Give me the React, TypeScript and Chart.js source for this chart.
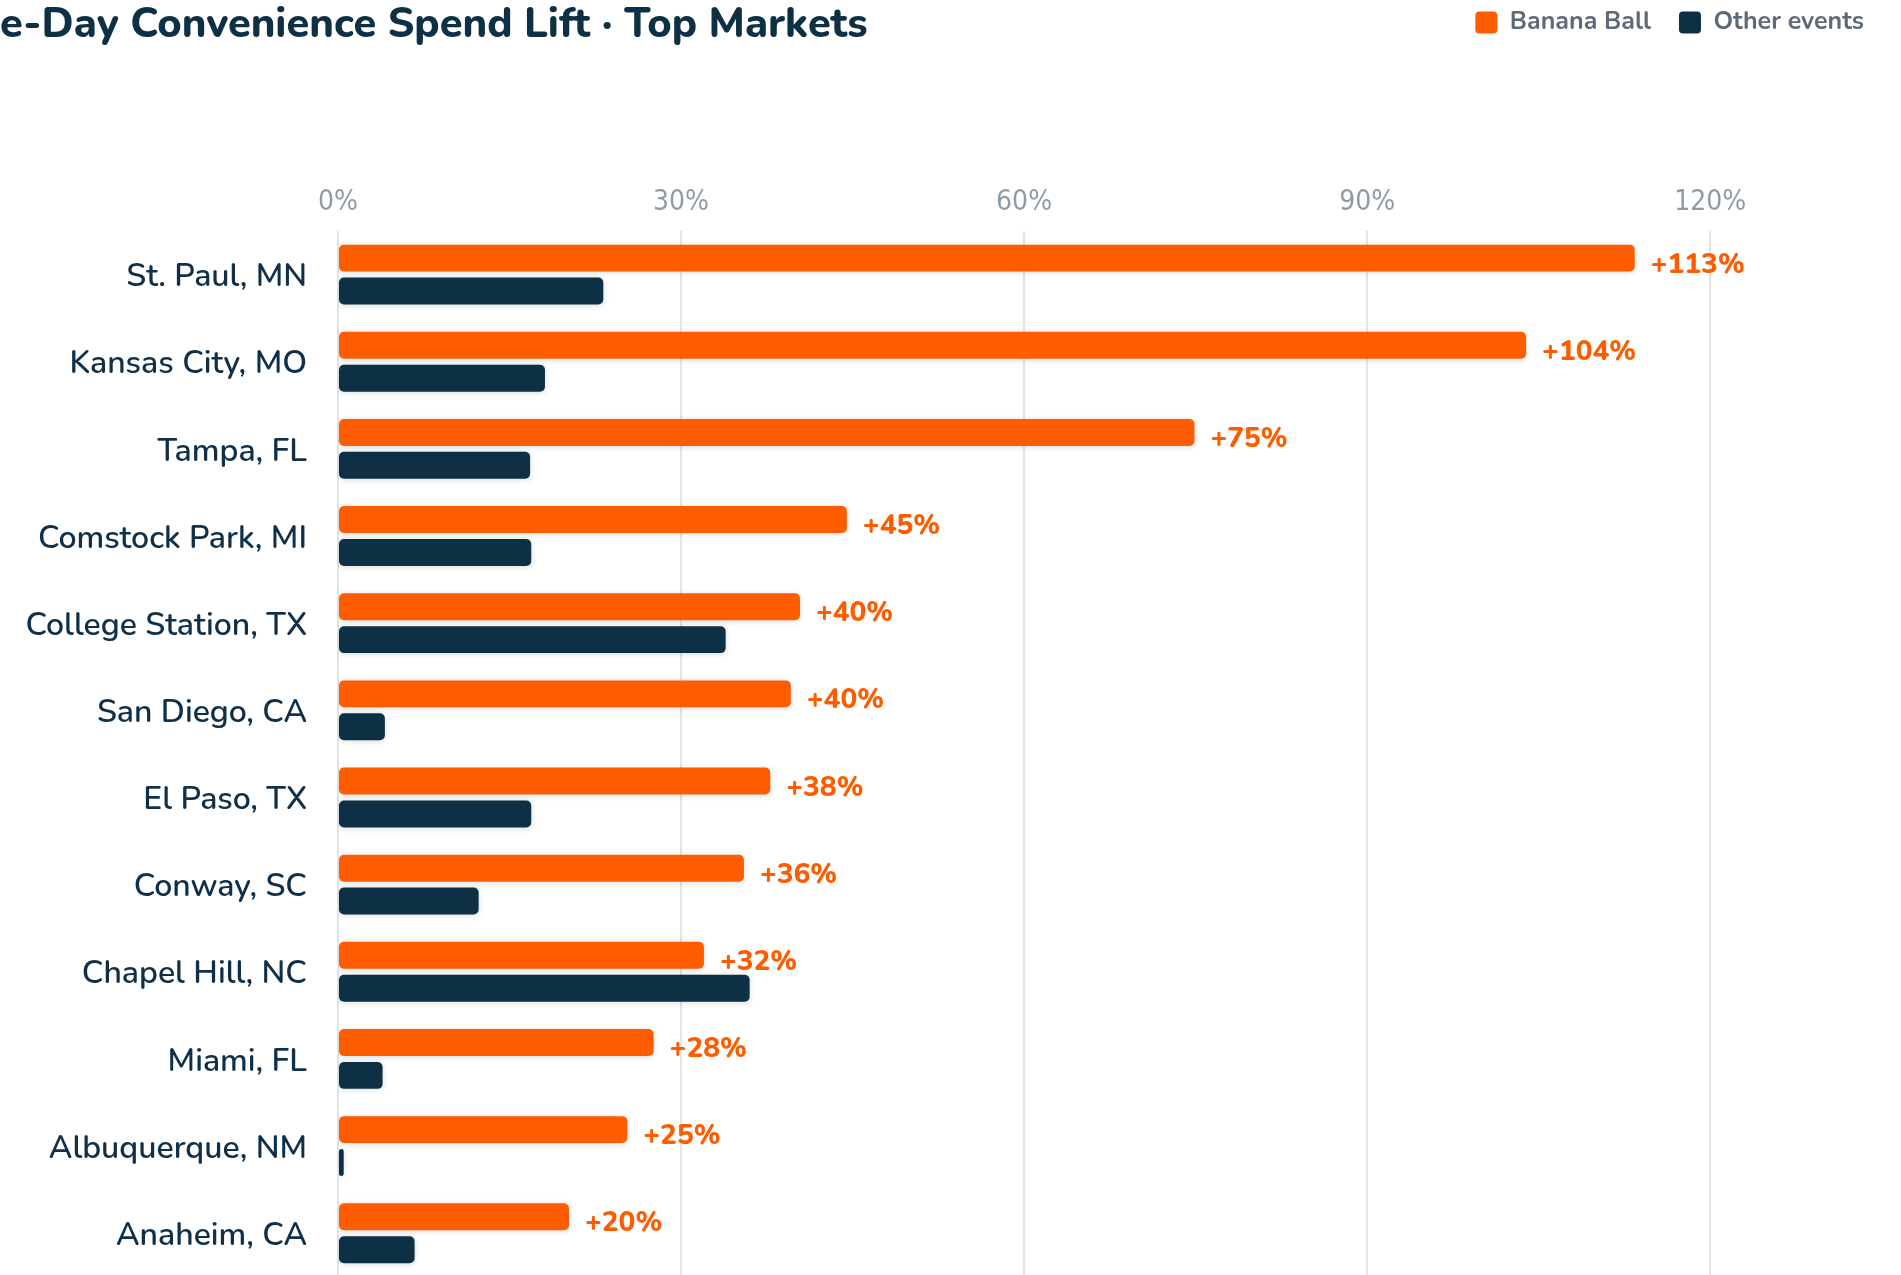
import React, { useEffect, useRef } from "react";
import { Chart, registerables } from "chart.js";

Chart.register(...registerables);

const TITLE = "Game-Day Convenience Spend Lift · Top Markets";
const TITLE_HIDDEN_PREFIX = "Gam";

const categories = [
  "St. Paul, MN",
  "Kansas City, MO",
  "Tampa, FL",
  "Comstock Park, MI",
  "College Station, TX",
  "San Diego, CA",
  "El Paso, TX",
  "Conway, SC",
  "Chapel Hill, NC",
  "Miami, FL",
  "Albuquerque, NM",
  "Anaheim, CA",
];

const bananaBall = [113.4, 103.9, 74.9, 44.5, 40.4, 39.6, 37.8, 35.5, 32.0, 27.6, 25.3, 20.2];
const otherEvents = [23.2, 18.1, 16.8, 16.9, 33.9, 4.1, 16.9, 12.3, 36.0, 3.9, 0.5, 6.7];

const xTickValues = [0, 30, 60, 90, 120];

const ORANGE = "#ff5c00";
const NAVY = "#0e3044";
const LABEL_FONT = "Nunito, Lato, 'Noto Sans', sans-serif";

const CANVAS_W = 1901;
const CANVAS_H = 1345;
const CANVAS_SHIFT = 18;

const shadowPlugin = {
  id: "barShadow",
  beforeDatasetsDraw(chart: any) {
    const ctx = chart.ctx;
    ctx.save();
    ctx.shadowColor = "rgba(20, 30, 40, 0.16)";
    ctx.shadowBlur = 6;
    ctx.shadowOffsetX = 0;
    ctx.shadowOffsetY = 1;
  },
  afterDatasetsDraw(chart: any) {
    chart.ctx.restore();
  },
};

const valueLabelPlugin = {
  id: "valueLabels",
  afterDatasetsDraw(chart: any) {
    const ctx = chart.ctx;
    const meta = chart.getDatasetMeta(0);
    const data = chart.data.datasets[0].data as number[];
    ctx.save();
    ctx.font = `800 28px ${LABEL_FONT}`;
    ctx.fillStyle = ORANGE;
    ctx.textAlign = "left";
    ctx.textBaseline = "alphabetic";
    const m = ctx.measureText("+0%");
    const asc = m.actualBoundingBoxAscent || 21;
    meta.data.forEach((bar: any, i: number) => {
      const txt = `+${Math.round(data[i])}%`;
      ctx.fillText(txt, bar.x + 16, bar.y + 4 + asc / 2);
    });
    ctx.restore();
  },
};

const titlePlugin = {
  id: "clippedTitle",
  afterDraw(chart: any) {
    const ctx = chart.ctx;
    ctx.save();
    ctx.font = `800 41.5px ${LABEL_FONT}`;
    ctx.fillStyle = "#0e3044";
    ctx.textAlign = "left";
    ctx.textBaseline = "alphabetic";
    const pre = ctx.measureText(TITLE_HIDDEN_PREFIX).width;
    const m = ctx.measureText("D");
    const asc = m.actualBoundingBoxAscent || 30;
    ctx.fillText(TITLE, -pre, 22 + CANVAS_SHIFT + asc / 2);
    ctx.restore();
  },
};

export default function App() {
  const canvasRef = useRef<HTMLCanvasElement | null>(null);

  useEffect(() => {
    if (!canvasRef.current) return;
    const chart = new Chart(canvasRef.current, {
      type: "bar",
      data: {
        labels: categories,
        datasets: [
          {
            label: "Banana Ball",
            data: bananaBall,
            backgroundColor: ORANGE,
            borderWidth: 0,
            borderRadius: 5,
            borderSkipped: false,
            categoryPercentage: 0.756,
            barPercentage: 0.818,
          },
          {
            label: "Other events",
            data: otherEvents,
            backgroundColor: NAVY,
            borderWidth: 0,
            borderRadius: 5,
            borderSkipped: false,
            categoryPercentage: 0.756,
            barPercentage: 0.818,
          },
        ],
      },
      options: {
        indexAxis: "y",
        responsive: false,
        animation: false,
        devicePixelRatio: 1,
        layout: { padding: { top: 0, left: 0, right: 9, bottom: 24 } },
        plugins: {
          title: { display: false },
          tooltip: { enabled: false },
          legend: {
            display: true,
            position: "top",
            align: "end",
            labels: {
              boxWidth: 22,
              boxHeight: 22,
              useBorderRadius: true,
              borderRadius: 4,
              padding: 28,
              color: "#5d6b78",
              font: { family: LABEL_FONT, size: 25, weight: "bold" },
            },
          },
        },
        scales: {
          x: {
            type: "linear",
            position: "top",
            min: 0,
            max: 135.9,
            afterBuildTicks: (scale: any) => {
              scale.ticks = xTickValues.map((v) => ({ value: v }));
            },
            afterFit: (scale: any) => {
              scale.height = 186;
            },
            ticks: {
              padding: 11,
              color: "#8d9ba8",
              font: { family: "'DejaVu Sans Condensed', 'DejaVu Sans', sans-serif", size: 28 },
              callback: (v: any) => `${v}%`,
            },
            grid: { color: "#e1e4e8", lineWidth: 2, drawTicks: false },
            border: { display: false },
          },
          y: {
            position: "left",
            afterFit: (scale: any) => {
              scale.width = 338;
            },
            ticks: {
              padding: 31,
              labelOffset: 4,
              color: "#10304a",
              font: { family: LABEL_FONT, size: 32, weight: "600" },
            },
            grid: { display: false, drawTicks: false },
            border: { display: false },
          },
        },
      },
      plugins: [shadowPlugin, valueLabelPlugin, titlePlugin],
    } as any);
    return () => chart.destroy();
  }, []);

  return (
    <div
      style={{
        position: "fixed",
        left: 0,
        top: 0,
        width: CANVAS_W,
        height: 1275,
        overflow: "hidden",
        background: "#ffffff",
      }}
    >
      <div style={{ position: "absolute", left: 0, top: -CANVAS_SHIFT, width: CANVAS_W, height: CANVAS_H }}>
        <canvas ref={canvasRef} width={CANVAS_W} height={CANVAS_H} style={{ display: "block" }} />
      </div>
    </div>
  );
}
